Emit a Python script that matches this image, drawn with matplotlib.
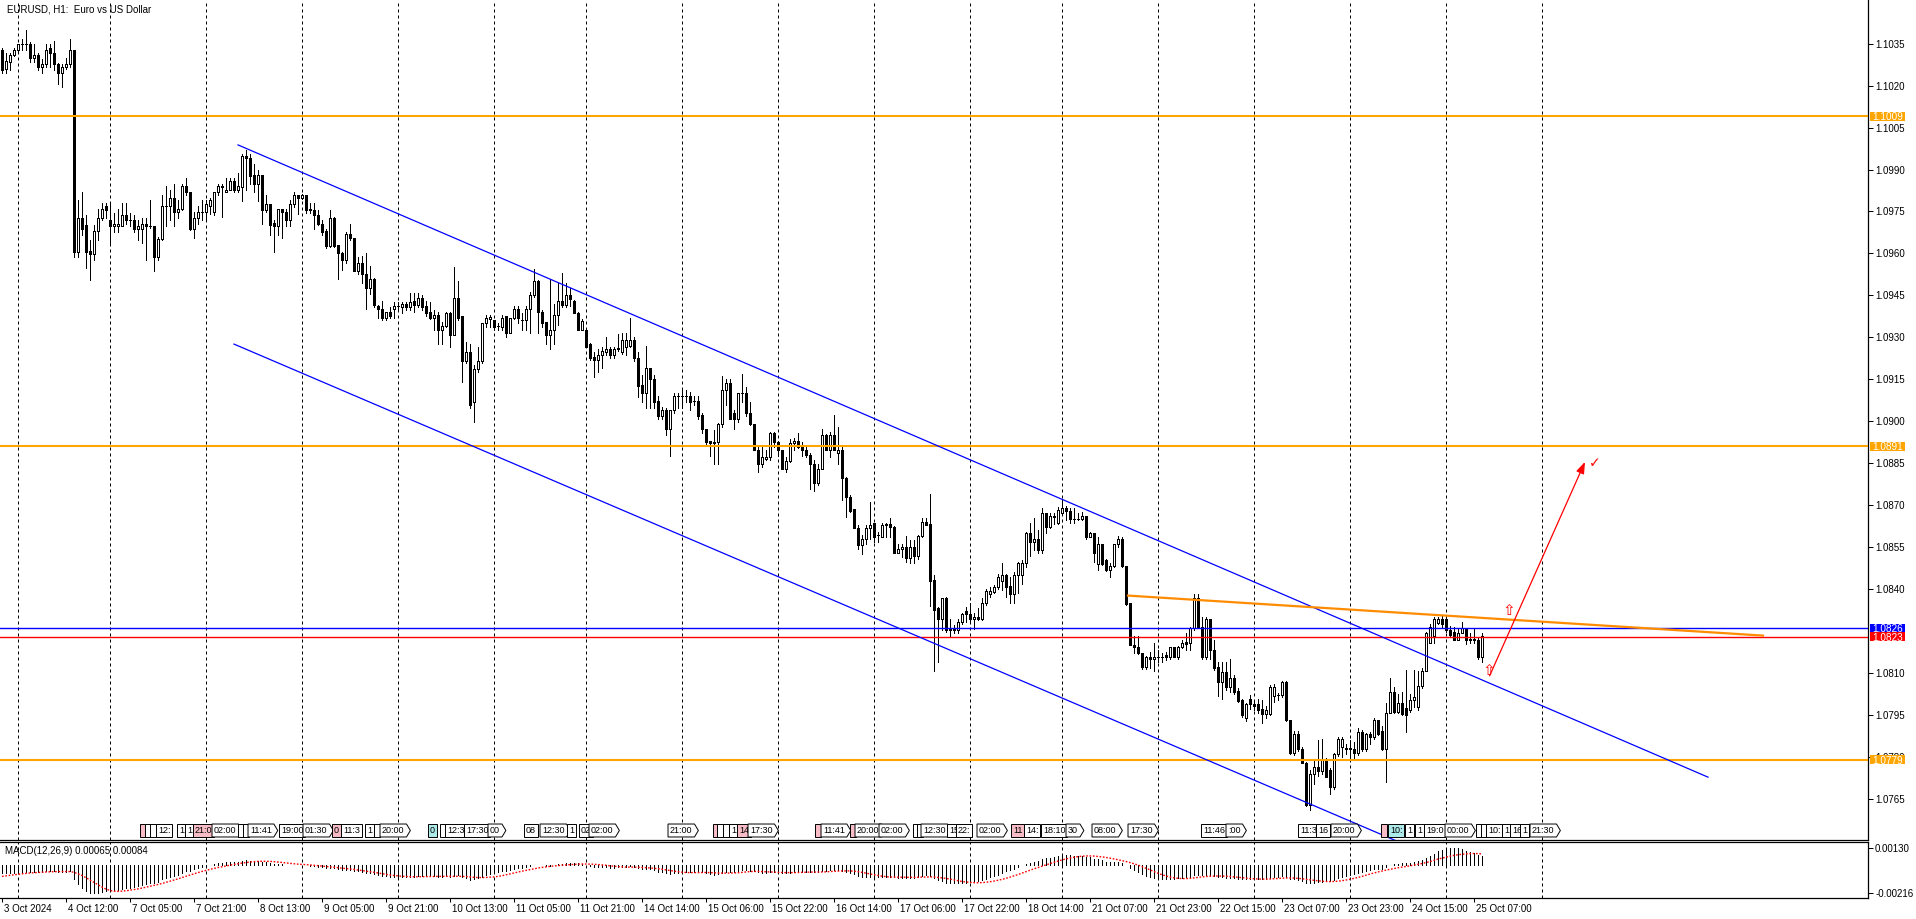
import numpy as np
import matplotlib
matplotlib.use('Agg')
import matplotlib.pyplot as plt
import matplotlib.transforms as mtransforms
from matplotlib.path import Path
from matplotlib.patches import Rectangle

plt.rcParams['font.family'] = ['Liberation Sans', 'DejaVu Sans']

# ---------------- data (EURUSD H1, bar 0 = 3 Oct 20:00) ----------------
open_ = [
    1.10329, 1.10258, 1.10285, 1.10308, 1.10329, 1.10347, 1.10347, 1.10347, 1.10297, 1.10308,
    1.10267, 1.10279, 1.10336, 1.10317, 1.10279, 1.10246, 1.10267, 1.10279, 1.10329, 1.09606,
    1.09728, 1.09701, 1.09608, 1.09597, 1.09679, 1.09728, 1.09770, 1.09719, 1.09699, 1.09699,
    1.09699, 1.09739, 1.09719, 1.09719, 1.09689, 1.09689, 1.09707, 1.09699, 1.09699, 1.09588,
    1.09650, 1.09769, 1.09769, 1.09799, 1.09749, 1.09758, 1.09840, 1.09818, 1.09689, 1.09728,
    1.09749, 1.09749, 1.09769, 1.09749, 1.09818, 1.09840, 1.09818, 1.09828, 1.09858, 1.09828,
    1.09838, 1.09948, 1.09940, 1.09880, 1.09848, 1.09880, 1.09755, 1.09778, 1.09709, 1.09699,
    1.09758, 1.09749, 1.09719, 1.09778, 1.09808, 1.09797, 1.09809, 1.09757, 1.09757, 1.09739,
    1.09707, 1.09681, 1.09626, 1.09728, 1.09630, 1.09600, 1.09576, 1.09668, 1.09657, 1.09538,
    1.09567, 1.09528, 1.09478, 1.09507, 1.09412, 1.09400, 1.09368, 1.09391, 1.09400, 1.09412,
    1.09409, 1.09419, 1.09409, 1.09430, 1.09415, 1.09439, 1.09412, 1.09391, 1.09368, 1.09380,
    1.09328, 1.09340, 1.09388, 1.09310, 1.09439, 1.09377, 1.09216, 1.09248, 1.09070, 1.09188,
    1.09216, 1.09350, 1.09364, 1.09362, 1.09340, 1.09338, 1.09377, 1.09316, 1.09368, 1.09400,
    1.09362, 1.09362, 1.09400, 1.09451, 1.09501, 1.09391, 1.09356, 1.09310, 1.09328, 1.09380,
    1.09430, 1.09415, 1.09451, 1.09430, 1.09388, 1.09328, 1.09328, 1.09278, 1.09231, 1.09219,
    1.09237, 1.09249, 1.09260, 1.09237, 1.09260, 1.09249, 1.09266, 1.09270, 1.09290, 1.09228,
    1.09129, 1.09100, 1.09189, 1.09150, 1.09072, 1.09018, 1.09040, 1.08971, 1.09040, 1.09090,
    1.09090, 1.09090, 1.09090, 1.09072, 1.09072, 1.09022, 1.08971, 1.08930, 1.08921, 1.08927,
    1.08990, 1.09111, 1.09138, 1.09028, 1.09010, 1.09100, 1.09100, 1.09028, 1.08990, 1.08899,
    1.08849, 1.08867, 1.08873, 1.08959, 1.08927, 1.08899, 1.08831, 1.08859, 1.08921, 1.08929,
    1.08911, 1.08899, 1.08879, 1.08849, 1.08780, 1.08831, 1.08950, 1.08899, 1.08950, 1.08887,
    1.08899, 1.08799, 1.08730, 1.08688, 1.08620, 1.08557, 1.08581, 1.08620, 1.08638, 1.08593,
    1.08587, 1.08631, 1.08633, 1.08623, 1.08530, 1.08542, 1.08551, 1.08510, 1.08551, 1.08519,
    1.08590, 1.08639, 1.08633, 1.08432, 1.08331, 1.08292, 1.08370, 1.08253, 1.08259, 1.08253,
    1.08281, 1.08321, 1.08310, 1.08292, 1.08299, 1.08292, 1.08349, 1.08381, 1.08391, 1.08409,
    1.08430, 1.08450, 1.08411, 1.08381, 1.08450, 1.08450, 1.08492, 1.08599, 1.08569, 1.08581,
    1.08540, 1.08671, 1.08621, 1.08659, 1.08637, 1.08671, 1.08689, 1.08680, 1.08649, 1.08649,
    1.08649, 1.08661, 1.08587, 1.08602, 1.08490, 1.08561, 1.08504, 1.08470, 1.08482, 1.08561,
    1.08581, 1.08482, 1.08349, 1.08202, 1.08192, 1.08170, 1.08120, 1.08158, 1.08152, 1.08158,
    1.08158, 1.08164, 1.08158, 1.08192, 1.08158, 1.08192, 1.08210, 1.08208, 1.08260, 1.08370,
    1.08266, 1.08158, 1.08292, 1.08182, 1.08120, 1.08069, 1.08105, 1.08051, 1.08081, 1.08037,
    1.08004, 1.07941, 1.08009, 1.07991, 1.07991, 1.07973, 1.07953, 1.07953, 1.08018, 1.08021,
    1.08021, 1.08069, 1.07932, 1.07815, 1.07882, 1.07830, 1.07779, 1.07628, 1.07741, 1.07763,
    1.07751, 1.07791, 1.07755, 1.07691, 1.07810, 1.07836, 1.07830, 1.07830, 1.07830, 1.07815,
    1.07890, 1.07830, 1.07882, 1.07872, 1.07932, 1.07894, 1.07830, 1.07958, 1.08031, 1.07962,
    1.07994, 1.07974, 1.07967, 1.08003, 1.07980, 1.08053, 1.08108, 1.08208, 1.08232, 1.08280,
    1.08292, 1.08292, 1.08254, 1.08248, 1.08220, 1.08244, 1.08260, 1.08220, 1.08220, 1.08220,
    1.08158]
high = [
    1.10336, 1.10318, 1.10318, 1.10336, 1.10350, 1.10368, 1.10398, 1.10357, 1.10347, 1.10317,
    1.10296, 1.10347, 1.10347, 1.10358, 1.10281, 1.10279, 1.10300, 1.10368, 1.10329, 1.09790,
    1.09818, 1.09739, 1.09647, 1.09701, 1.09758, 1.09781, 1.09781, 1.09778, 1.09743, 1.09758,
    1.09781, 1.09781, 1.09743, 1.09739, 1.09719, 1.09728, 1.09728, 1.09790, 1.09699, 1.09659,
    1.09808, 1.09840, 1.09828, 1.09847, 1.09790, 1.09850, 1.09868, 1.09818, 1.09749, 1.09769,
    1.09790, 1.09790, 1.09800, 1.09818, 1.09847, 1.09847, 1.09868, 1.09868, 1.09868, 1.09888,
    1.09957, 1.09969, 1.09957, 1.09919, 1.09898, 1.09880, 1.09808, 1.09778, 1.09719, 1.09758,
    1.09758, 1.09758, 1.09790, 1.09818, 1.09808, 1.09812, 1.09809, 1.09779, 1.09779, 1.09755,
    1.09719, 1.09689, 1.09757, 1.09731, 1.09630, 1.09606, 1.09677, 1.09707, 1.09657, 1.09588,
    1.09590, 1.09600, 1.09555, 1.09511, 1.09415, 1.09431, 1.09391, 1.09409, 1.09427, 1.09427,
    1.09427, 1.09427, 1.09457, 1.09457, 1.09457, 1.09451, 1.09430, 1.09427, 1.09397, 1.09391,
    1.09356, 1.09391, 1.09391, 1.09550, 1.09502, 1.09377, 1.09284, 1.09278, 1.09201, 1.09266,
    1.09350, 1.09380, 1.09380, 1.09362, 1.09350, 1.09380, 1.09377, 1.09368, 1.09412, 1.09412,
    1.09386, 1.09412, 1.09463, 1.09543, 1.09505, 1.09397, 1.09356, 1.09507, 1.09421, 1.09493,
    1.09529, 1.09493, 1.09475, 1.09433, 1.09391, 1.09364, 1.09328, 1.09280, 1.09249, 1.09260,
    1.09266, 1.09300, 1.09266, 1.09266, 1.09312, 1.09316, 1.09316, 1.09368, 1.09300, 1.09249,
    1.09165, 1.09269, 1.09189, 1.09165, 1.09090, 1.09052, 1.09046, 1.09042, 1.09102, 1.09102,
    1.09111, 1.09111, 1.09106, 1.09090, 1.09090, 1.09028, 1.08974, 1.08930, 1.08968, 1.08995,
    1.09161, 1.09150, 1.09150, 1.09042, 1.09102, 1.09169, 1.09121, 1.09070, 1.08990, 1.08909,
    1.08909, 1.08899, 1.08962, 1.08962, 1.08930, 1.08899, 1.08873, 1.08935, 1.08941, 1.08959,
    1.08927, 1.08909, 1.08885, 1.08861, 1.08849, 1.08974, 1.08956, 1.08962, 1.09022, 1.08980,
    1.08909, 1.08801, 1.08736, 1.08688, 1.08629, 1.08593, 1.08629, 1.08712, 1.08638, 1.08605,
    1.08638, 1.08638, 1.08653, 1.08625, 1.08561, 1.08561, 1.08590, 1.08575, 1.08575, 1.08593,
    1.08653, 1.08653, 1.08740, 1.08450, 1.08335, 1.08370, 1.08373, 1.08292, 1.08271, 1.08292,
    1.08316, 1.08335, 1.08349, 1.08313, 1.08331, 1.08367, 1.08402, 1.08409, 1.08415, 1.08454,
    1.08492, 1.08454, 1.08444, 1.08462, 1.08498, 1.08504, 1.08605, 1.08635, 1.08653, 1.08611,
    1.08689, 1.08673, 1.08671, 1.08671, 1.08695, 1.08721, 1.08697, 1.08689, 1.08689, 1.08671,
    1.08677, 1.08661, 1.08605, 1.08602, 1.08587, 1.08561, 1.08506, 1.08494, 1.08563, 1.08590,
    1.08585, 1.08482, 1.08351, 1.08232, 1.08232, 1.08172, 1.08160, 1.08176, 1.08208, 1.08182,
    1.08172, 1.08176, 1.08194, 1.08194, 1.08196, 1.08220, 1.08242, 1.08266, 1.08382, 1.08382,
    1.08301, 1.08301, 1.08292, 1.08220, 1.08140, 1.08140, 1.08140, 1.08152, 1.08093, 1.08045,
    1.08006, 1.07994, 1.08021, 1.08003, 1.08009, 1.08003, 1.07982, 1.08057, 1.08061, 1.08029,
    1.08071, 1.08071, 1.07934, 1.07894, 1.07894, 1.07836, 1.07783, 1.07753, 1.07786, 1.07860,
    1.07866, 1.07795, 1.07759, 1.07815, 1.07872, 1.07872, 1.07848, 1.07860, 1.07854, 1.07902,
    1.07898, 1.07886, 1.07890, 1.07938, 1.07934, 1.07910, 1.07994, 1.08081, 1.08051, 1.08027,
    1.08033, 1.08111, 1.08027, 1.08111, 1.08108, 1.08117, 1.08248, 1.08277, 1.08299, 1.08301,
    1.08304, 1.08301, 1.08268, 1.08266, 1.08256, 1.08284, 1.08260, 1.08242, 1.08260, 1.08230,
    1.08242]
low = [
    1.10246, 1.10246, 1.10255, 1.10305, 1.10321, 1.10329, 1.10329, 1.10285, 1.10285, 1.10255,
    1.10246, 1.10267, 1.10267, 1.10255, 1.10207, 1.10196, 1.10258, 1.10267, 1.09588, 1.09588,
    1.09665, 1.09548, 1.09504, 1.09578, 1.09647, 1.09719, 1.09728, 1.09629, 1.09677, 1.09677,
    1.09699, 1.09707, 1.09699, 1.09677, 1.09647, 1.09638, 1.09578, 1.09690, 1.09538, 1.09578,
    1.09647, 1.09699, 1.09719, 1.09699, 1.09728, 1.09754, 1.09808, 1.09683, 1.09657, 1.09707,
    1.09719, 1.09719, 1.09740, 1.09737, 1.09808, 1.09729, 1.09818, 1.09826, 1.09818, 1.09818,
    1.09788, 1.09828, 1.09850, 1.09818, 1.09788, 1.09707, 1.09749, 1.09665, 1.09606, 1.09665,
    1.09657, 1.09699, 1.09699, 1.09767, 1.09740, 1.09793, 1.09743, 1.09743, 1.09689, 1.09701,
    1.09665, 1.09618, 1.09624, 1.09624, 1.09507, 1.09540, 1.09567, 1.09648, 1.09538, 1.09528,
    1.09493, 1.09400, 1.09455, 1.09407, 1.09368, 1.09362, 1.09362, 1.09368, 1.09368, 1.09397,
    1.09388, 1.09397, 1.09397, 1.09391, 1.09407, 1.09397, 1.09377, 1.09364, 1.09328, 1.09278,
    1.09278, 1.09338, 1.09266, 1.09308, 1.09362, 1.09141, 1.09207, 1.09046, 1.08998, 1.09177,
    1.09207, 1.09338, 1.09338, 1.09326, 1.09328, 1.09326, 1.09302, 1.09314, 1.09364, 1.09350,
    1.09328, 1.09328, 1.09316, 1.09445, 1.09316, 1.09338, 1.09278, 1.09260, 1.09278, 1.09344,
    1.09409, 1.09409, 1.09412, 1.09388, 1.09326, 1.09326, 1.09266, 1.09219, 1.09159, 1.09177,
    1.09189, 1.09237, 1.09228, 1.09228, 1.09252, 1.09240, 1.09237, 1.09266, 1.09216, 1.09088,
    1.09070, 1.09049, 1.09049, 1.09049, 1.09010, 1.09010, 1.08950, 1.08877, 1.09028, 1.09049,
    1.09046, 1.09070, 1.09040, 1.09058, 1.09010, 1.08959, 1.08918, 1.08877, 1.08849, 1.08849,
    1.08980, 1.09058, 1.09010, 1.08971, 1.08998, 1.09070, 1.09018, 1.08986, 1.08897, 1.08819,
    1.08837, 1.08861, 1.08861, 1.08909, 1.08877, 1.08829, 1.08819, 1.08855, 1.08899, 1.08906,
    1.08877, 1.08873, 1.08757, 1.08750, 1.08771, 1.08829, 1.08897, 1.08873, 1.08897, 1.08849,
    1.08718, 1.08658, 1.08676, 1.08617, 1.08545, 1.08527, 1.08563, 1.08581, 1.08569, 1.08569,
    1.08585, 1.08587, 1.08587, 1.08528, 1.08530, 1.08516, 1.08498, 1.08492, 1.08492, 1.08506,
    1.08587, 1.08629, 1.08341, 1.08108, 1.08140, 1.08253, 1.08248, 1.08230, 1.08244, 1.08244,
    1.08277, 1.08283, 1.08283, 1.08259, 1.08289, 1.08289, 1.08343, 1.08373, 1.08387, 1.08399,
    1.08397, 1.08373, 1.08349, 1.08349, 1.08385, 1.08420, 1.08480, 1.08518, 1.08540, 1.08530,
    1.08530, 1.08599, 1.08617, 1.08632, 1.08632, 1.08668, 1.08647, 1.08637, 1.08637, 1.08647,
    1.08647, 1.08581, 1.08585, 1.08498, 1.08468, 1.08486, 1.08466, 1.08444, 1.08480, 1.08551,
    1.08480, 1.08343, 1.08200, 1.08170, 1.08168, 1.08116, 1.08116, 1.08119, 1.08108, 1.08140,
    1.08140, 1.08146, 1.08149, 1.08156, 1.08152, 1.08188, 1.08182, 1.08182, 1.08254, 1.08266,
    1.08152, 1.08152, 1.08152, 1.08111, 1.08018, 1.08009, 1.08039, 1.08033, 1.08027, 1.07997,
    1.07944, 1.07929, 1.07970, 1.07967, 1.07956, 1.07920, 1.07941, 1.07950, 1.07997, 1.08003,
    1.08015, 1.07929, 1.07810, 1.07807, 1.07822, 1.07777, 1.07624, 1.07612, 1.07703, 1.07732,
    1.07741, 1.07727, 1.07667, 1.07687, 1.07803, 1.07800, 1.07812, 1.07791, 1.07791, 1.07807,
    1.07822, 1.07822, 1.07848, 1.07866, 1.07878, 1.07824, 1.07711, 1.07956, 1.07956, 1.07956,
    1.07950, 1.07890, 1.07962, 1.07980, 1.07967, 1.08047, 1.08108, 1.08206, 1.08206, 1.08275,
    1.08266, 1.08248, 1.08230, 1.08218, 1.08218, 1.08242, 1.08204, 1.08206, 1.08206, 1.08152,
    1.08140]
close = [
    1.10255, 1.10287, 1.10308, 1.10329, 1.10347, 1.10347, 1.10347, 1.10297, 1.10308, 1.10267,
    1.10279, 1.10329, 1.10317, 1.10279, 1.10246, 1.10267, 1.10279, 1.10329, 1.09606, 1.09728,
    1.09689, 1.09606, 1.09597, 1.09679, 1.09728, 1.09758, 1.09757, 1.09699, 1.09707, 1.09707,
    1.09739, 1.09719, 1.09719, 1.09689, 1.09699, 1.09707, 1.09699, 1.09699, 1.09588, 1.09650,
    1.09769, 1.09769, 1.09799, 1.09749, 1.09758, 1.09840, 1.09818, 1.09689, 1.09728, 1.09749,
    1.09749, 1.09778, 1.09790, 1.09818, 1.09840, 1.09838, 1.09828, 1.09858, 1.09828, 1.09840,
    1.09948, 1.09940, 1.09878, 1.09848, 1.09880, 1.09755, 1.09778, 1.09701, 1.09699, 1.09758,
    1.09749, 1.09719, 1.09778, 1.09808, 1.09797, 1.09809, 1.09755, 1.09757, 1.09739, 1.09707,
    1.09677, 1.09626, 1.09728, 1.09626, 1.09600, 1.09576, 1.09668, 1.09656, 1.09538, 1.09567,
    1.09528, 1.09478, 1.09507, 1.09415, 1.09400, 1.09368, 1.09391, 1.09377, 1.09412, 1.09412,
    1.09419, 1.09409, 1.09427, 1.09415, 1.09439, 1.09409, 1.09388, 1.09368, 1.09380, 1.09328,
    1.09340, 1.09388, 1.09310, 1.09439, 1.09368, 1.09216, 1.09248, 1.09058, 1.09188, 1.09216,
    1.09350, 1.09368, 1.09374, 1.09338, 1.09340, 1.09368, 1.09316, 1.09368, 1.09400, 1.09368,
    1.09362, 1.09400, 1.09451, 1.09501, 1.09391, 1.09350, 1.09310, 1.09328, 1.09380, 1.09430,
    1.09415, 1.09451, 1.09436, 1.09388, 1.09328, 1.09359, 1.09266, 1.09225, 1.09219, 1.09237,
    1.09251, 1.09260, 1.09237, 1.09260, 1.09260, 1.09290, 1.09290, 1.09290, 1.09228, 1.09126,
    1.09100, 1.09189, 1.09150, 1.09070, 1.09018, 1.09040, 1.08971, 1.09040, 1.09090, 1.09090,
    1.09090, 1.09090, 1.09070, 1.09072, 1.09018, 1.08971, 1.08927, 1.08921, 1.08927, 1.08990,
    1.09111, 1.09138, 1.09010, 1.09010, 1.09100, 1.09100, 1.09028, 1.08990, 1.08899, 1.08849,
    1.08873, 1.08873, 1.08959, 1.08927, 1.08897, 1.08831, 1.08859, 1.08921, 1.08929, 1.08909,
    1.08897, 1.08879, 1.08849, 1.08780, 1.08831, 1.08950, 1.08899, 1.08950, 1.08899, 1.08899,
    1.08799, 1.08730, 1.08680, 1.08620, 1.08557, 1.08581, 1.08620, 1.08631, 1.08587, 1.08593,
    1.08631, 1.08631, 1.08621, 1.08530, 1.08542, 1.08551, 1.08510, 1.08551, 1.08519, 1.08590,
    1.08639, 1.08629, 1.08430, 1.08327, 1.08292, 1.08370, 1.08253, 1.08259, 1.08253, 1.08281,
    1.08310, 1.08310, 1.08292, 1.08299, 1.08292, 1.08349, 1.08394, 1.08394, 1.08409, 1.08442,
    1.08450, 1.08409, 1.08381, 1.08450, 1.08492, 1.08492, 1.08599, 1.08569, 1.08581, 1.08540,
    1.08671, 1.08621, 1.08661, 1.08661, 1.08683, 1.08689, 1.08680, 1.08649, 1.08649, 1.08649,
    1.08661, 1.08587, 1.08602, 1.08530, 1.08561, 1.08490, 1.08468, 1.08482, 1.08561, 1.08581,
    1.08482, 1.08347, 1.08202, 1.08192, 1.08170, 1.08120, 1.08158, 1.08152, 1.08158, 1.08158,
    1.08158, 1.08158, 1.08192, 1.08158, 1.08192, 1.08209, 1.08204, 1.08260, 1.08370, 1.08266,
    1.08158, 1.08292, 1.08182, 1.08117, 1.08069, 1.08105, 1.08051, 1.08081, 1.08031, 1.08001,
    1.07950, 1.07991, 1.07991, 1.07982, 1.07967, 1.07953, 1.07967, 1.08051, 1.08051, 1.08021,
    1.08069, 1.07932, 1.07815, 1.07882, 1.07827, 1.07779, 1.07628, 1.07741, 1.07763, 1.07751,
    1.07791, 1.07729, 1.07691, 1.07810, 1.07866, 1.07866, 1.07830, 1.07830, 1.07815, 1.07890,
    1.07830, 1.07882, 1.07872, 1.07932, 1.07884, 1.07830, 1.07958, 1.08031, 1.07962, 1.07994,
    1.07952, 1.07950, 1.08003, 1.08015, 1.08053, 1.08108, 1.08242, 1.08266, 1.08292, 1.08292,
    1.08277, 1.08254, 1.08236, 1.08220, 1.08244, 1.08260, 1.08220, 1.08220, 1.08220, 1.08158,
    1.08232]

# MACD(12,26,9) main line and signal, in units of 0.00001
macd_pts = [
    -64, -64, -62, -60, -58, -56, -54, -53, -52, -52, -52, -50, -49, -49, -51, -52, -51, -48,
    -105, -150, -180, -200, -212, -216, -214, -208, -202, -198, -194, -190, -186, -180, -175, -168, -161, -153, -146, -140, -137, -131,
    -110, -100, -90, -82, -74, -60, -50, -45, -35, -26, -16, -8, 0, 6, 12, 16, 19, 22, 24, 26,
    32, 34, 33, 31, 30, 24, 21, 15, 10, 9, 6, 3, 3, 2, 0, -1, -4, -7, -10, -14,
    -18, -24, -22, -26, -32, -38, -36, -38, -46, -50, -55, -62, -64, -72, -78, -84, -88, -91, -92, -93,
    -93, -92, -90, -89, -87, -87, -87, -87, -87, -89, -90, -88, -92, -82, -80, -92, -98, -112, -110, -104,
    -92, -80, -70, -62, -56, -49, -47, -40, -32, -27, -23, -17, -8, 2, 0, -3, -7, -5, 0, 6,
    10, 15, 17, 17, 12, 10, 3, -6, -13, -17, -19, -19, -21, -20, -19, -16, -14, -11, -14, -24,
    -33, -32, -34, -42, -51, -56, -64, -66, -63, -60, -57, -54, -52, -51, -53, -58, -65, -70, -74, -73,
    -62, -52, -52, -52, -46, -41, -41, -43, -50, -58, -62, -63, -58, -56, -57, -62, -63, -59, -55, -53,
    -52, -52, -52, -58, -58, -50, -47, -40, -38, -37, -43, -52, -62, -72, -84, -90, -92, -92, -95, -96,
    -94, -92, -90, -95, -97, -97, -99, -97, -97, -92, -84, -78, -88, -104, -118, -124, -135, -140, -140, -140,
    -138, -135, -132, -128, -124, -116, -106, -96, -86, -74, -60, -50, -42, -30, -16, -4, 10, 18, 26, 31,
    44, 50, 56, 60, 66, 70, 73, 73, 72, 71, 70, 63, 58, 48, 44, 35, 26, 20, 20, 20,
    12, 0, -22, -40, -55, -72, -82, -92, -98, -103, -106, -108, -106, -106, -103, -99, -96, -90, -76, -74,
    -80, -74, -77, -84, -92, -94, -98, -98, -101, -105, -111, -111, -110, -110, -110, -111, -110, -100, -94, -90,
    -84, -92, -106, -110, -116, -122, -138, -138, -136, -133, -128, -127, -126, -114, -100, -90, -82, -76, -70, -60,
    -56, -48, -42, -32, -28, -28, -16, -2, 4, 10, 13, 15, 18, 22, 28, 36, 55, 70, 86, 104,
    116, 124, 128, 130, 127, 120, 110, 100, 90, 78, 65]
signal_pts = [
    -88, -84, -80, -76, -72, -68, -65, -62, -60, -58, -56, -54, -53, -52, -51, -51, -51, -51,
    -57, -68, -82, -98, -116, -134, -152, -170, -186, -196, -202, -203, -201, -198, -194, -189, -184, -178, -171, -164, -157, -150,
    -142, -134, -125, -116, -107, -97, -87, -78, -68, -59, -50, -42, -34, -27, -20, -14, -8, -2, 4, 9,
    14, 18, 22, 25, 27, 28, 28, 27, 25, 22, 19, 15, 12, 9, 6, 4, 2, 0, -3, -6,
    -9, -12, -15, -18, -21, -25, -28, -31, -35, -39, -43, -48, -52, -57, -62, -67, -72, -77, -81, -84,
    -87, -89, -90, -91, -91, -90, -90, -89, -89, -88, -88, -88, -88, -88, -87, -88, -89, -92, -95, -97,
    -97, -96, -94, -92, -88, -83, -76, -69, -62, -55, -48, -42, -36, -30, -24, -19, -15, -11, -8, -5,
    -2, 0, 2, 4, 6, 7, 7, 6, 5, 3, 0, -3, -7, -10, -13, -15, -17, -17, -17, -18,
    -19, -21, -23, -26, -29, -33, -38, -43, -48, -52, -56, -58, -59, -59, -59, -58, -58, -59, -60, -62,
    -63, -63, -62, -61, -60, -57, -54, -51, -50, -50, -51, -53, -54, -55, -57, -58, -59, -59, -59, -58,
    -57, -56, -55, -55, -55, -54, -53, -51, -49, -47, -46, -46, -46, -48, -52, -57, -63, -69, -75, -81,
    -86, -90, -93, -94, -94, -94, -95, -95, -95, -95, -94, -93, -92, -93, -96, -99, -104, -109, -115, -121,
    -127, -131, -134, -136, -137, -136, -133, -129, -124, -118, -111, -103, -94, -84, -74, -63, -52, -41, -30, -20,
    -10, 0, 10, 20, 29, 38, 46, 53, 59, 64, 67, 69, 69, 68, 65, 62, 57, 52, 46, 40,
    33, 26, 18, 9, -1, -13, -25, -38, -51, -64, -75, -85, -93, -99, -103, -105, -105, -103, -100, -96,
    -92, -89, -87, -86, -85, -86, -87, -89, -92, -95, -98, -101, -104, -106, -108, -109, -109, -108, -106, -104,
    -102, -100, -100, -101, -103, -106, -110, -114, -118, -122, -125, -127, -128, -127, -125, -121, -116, -110, -103, -96,
    -88, -79, -70, -62, -54, -47, -40, -34, -28, -22, -17, -12, -7, -1, 5, 11, 18, 26, 35, 45,
    52, 60, 67, 73, 78, 82, 85, 87, 88, 87, 84]

assert len(open_) == len(high) == len(low) == len(close) == len(macd_pts) == len(signal_pts)

# first bar of each trading day (vertical dashed grid)
day_starts = [4, 27, 51, 75, 99, 123, 146, 170, 194, 218, 242, 265, 289, 313, 337, 361, 385]

time_ticks = [0, 16, 32, 48, 64, 80, 96, 112, 128, 144, 160, 176, 192, 208, 224, 240,
              256, 272, 288, 304, 320, 336, 352, 368]
time_labels = ['3 Oct 2024', '4 Oct 12:00', '7 Oct 05:00', '7 Oct 21:00', '8 Oct 13:00',
               '9 Oct 05:00', '9 Oct 21:00', '10 Oct 13:00', '11 Oct 05:00', '11 Oct 21:00',
               '14 Oct 14:00', '15 Oct 06:00', '15 Oct 22:00', '16 Oct 14:00', '17 Oct 06:00',
               '17 Oct 22:00', '18 Oct 14:00', '21 Oct 07:00', '21 Oct 23:00', '22 Oct 15:00',
               '23 Oct 07:00', '23 Oct 23:00', '24 Oct 15:00', '25 Oct 07:00']

# 1.0825 sits under the 1.0826 / 1.0823 price boxes, so it is not printed
price_labels = ['1.1035', '1.1020', '1.1005', '1.0990', '1.0975', '1.0960', '1.0945', '1.0930',
                '1.0915', '1.0900', '1.0885', '1.0870', '1.0855', '1.0840', '1.0810',
                '1.0795', '1.0780', '1.0765']
price_ticks = [float(s) for s in price_labels]

orange_levels = [1.1009, 1.0891, 1.0779]
blue_level = 1.0826
red_level = 1.0823

upper_channel = ([59, 426.5], [1.09988, 1.07728])
lower_channel = ([58, 426.5], [1.09276, 1.07024])
orange_trend = ([281.5, 440.25], [1.08377, 1.08234])
red_arrow = ([371.9, 395.75], [1.08090, 1.08855])
up_marks = ([371.75, 376.75], [1.08111, 1.08322])

PINK, CYAN = '#f7bcc6', '#aee9ea'
# (bar position, text, fill, pointed right end)
events = [
    (35, ' ', PINK, 0), (36.25, ' ', None, 0), (37.5, ' ', None, 0), (39, '12:', None, 0),
    (44.25, '1', None, 0), (46.25, '1', None, 0), (48.25, '21:0', PINK, 0), (53, '02:00', None, 1),
    (59.5, ' ', None, 0), (60.75, ' ', None, 0), (62, '11:41', None, 1), (69.75, '19:00', None, 0),
    (75.75, '01:30', None, 1), (83, '0', PINK, 0), (85.25, '11:3', None, 0), (91.25, '1', None, 0),
    (93.5, ' ', None, 0), (95, '20:00', None, 1), (107, '0', CYAN, 0), (110, ' ', None, 0),
    (111.25, '12:3', None, 0), (116, '17:30', None, 0), (122, '00', None, 1), (131, '08', None, 0),
    (135, '12:30', None, 1), (141.75, '1', None, 0), (144.75, '02', None, 0), (147.25, '02:00', None, 1),
    (167, '21:00', None, 1), (178.25, ' ', PINK, 0), (179.25, ' ', None, 0), (180.75, ' ', None, 0),
    (182.25, '1', None, 0), (184.25, '14', PINK, 0), (187, '17:30', None, 1), (203.75, ' ', PINK, 0),
    (205.25, '11:41', None, 1), (212.5, ' ', PINK, 0), (213.75, '20:00', None, 1), (219.75, '02:00', None, 1),
    (228.25, ' ', None, 0), (229.25, ' ', None, 0), (230.25, '12:30', None, 1), (236.75, '15', None, 0),
    (239, '22:', None, 0), (244.25, '02:00', None, 1), (252.75, '11', PINK, 0), (256, '14:', None, 0),
    (260.25, '18:10', None, 0), (266.5, '30', None, 1), (273, '08:00', None, 1), (282, '17:30', None, 1),
    (300.25, '11:46', None, 0), (306.5, ':00', None, 1), (324.5, '11:3', None, 0), (329, '16', None, 0),
    (332.75, '20:00', None, 1), (345.25, ' ', PINK, 0), (347, '10:', CYAN, 0), (351.25, '1', None, 0),
    (353.75, '1', None, 0), (356, '19:0', None, 0), (361.25, '00:00', None, 1), (369, ' ', None, 0),
    (370.25, ' ', None, 0), (371.5, '10:', None, 0), (375.5, '1', None, 0), (377.5, '16', None, 0),
    (380, '1', None, 0), (382.5, '21:30', None, 1)]


class FlagBox:
    """Box with a short pointed right end, like the MT5 calendar flags."""
    def __init__(self, pad=0.2, point=True):
        self.pad = pad
        self.point = point

    def __call__(self, x0, y0, width, height, mutation_size):
        p = mutation_size * self.pad
        x0, y0, x1, y1 = x0 - p, y0 - p, x0 + width + p, y0 + height + p
        if not self.point:
            verts = [(x0, y0), (x1, y0), (x1, y1), (x0, y1), (x0, y0)]
        else:
            t = (y1 - y0) * 0.3
            verts = [(x0, y0), (x1, y0), (x1 + t, (y0 + y1) / 2), (x1, y1), (x0, y1), (x0, y0)]
        return Path(verts, closed=True)


# ---------------- figure ----------------
W, H = 1916, 919
fig = plt.figure(figsize=(W / 100, H / 100), dpi=100)
ax = fig.add_axes([0, 79 / H, 1868 / W, 840 / H])
axm = fig.add_axes([0, 21 / H, 1868 / W, 56 / H])

x = np.arange(len(close))
o, hi, lo, c = (np.array(v) for v in (open_, high, low, close))

for a in (ax, axm):
    a.set_xlim(-0.5, 466.5)
    for d in day_starts:
        a.axvline(d, color='black', lw=0.72, ls=(0, (3, 3)), zorder=1)
    for s in a.spines.values():
        s.set_linewidth(0.9)
    a.spines['left'].set_visible(False)

ax.spines['top'].set_visible(False)
ax.set_ylim(1.10506 - 840 / 27975, 1.10506)

# candles
ax.vlines(x, lo, hi, colors='black', linewidth=0.72, antialiased=False, zorder=2)
body_lo = np.minimum(o, c)
body_h = np.maximum(np.abs(c - o), 0.000005)
face = np.where(c >= o, 'white', 'black')
ax.bar(x, body_h, bottom=body_lo, width=0.5, color=face, edgecolor='black',
       linewidth=0.72, antialiased=False, zorder=3)

# levels and drawn objects
for lv in orange_levels:
    ax.axhline(lv, color='#ffa500', lw=1.5, zorder=4)
ax.axhline(blue_level, color='#0000ff', lw=1.0, zorder=4)
ax.axhline(red_level, color='#ff0000', lw=1.0, zorder=4)
ax.plot(*upper_channel, color='#0000ff', lw=0.9, zorder=4)
ax.plot(*lower_channel, color='#0000ff', lw=0.9, zorder=4)
ax.plot(*orange_trend, color='#ff8c00', lw=1.6, zorder=4)
ax.annotate('', xy=(red_arrow[0][1], red_arrow[1][1]), xytext=(red_arrow[0][0], red_arrow[1][0]),
            arrowprops=dict(arrowstyle='-|>,head_length=0.7,head_width=0.25', color='red',
                            lw=0.9, shrinkA=0, shrinkB=0), zorder=5)
ax.text(red_arrow[0][1] + 1.0, red_arrow[1][1] - 0.00003, '\u2713', color='red', fontsize=10,
        family='DejaVu Sans', ha='left', va='center', zorder=5)
for ux, uy in zip(*up_marks):
    ax.text(ux, uy, '\u21e7', color='red', fontsize=11, family='DejaVu Sans',
            ha='center', va='center', zorder=5)

# calendar event flags along the bottom of the price panel
ev_trans = mtransforms.blended_transform_factory(ax.transData, ax.transAxes)
for k, (ex, txt, fill, pointed) in enumerate(events):
    ax.text(ex, 9.5 / 840, txt, transform=ev_trans, fontsize=6.5, ha='left', va='center',
            bbox=dict(boxstyle=FlagBox(0.22, bool(pointed)), fc=fill or 'white', ec='black', lw=0.7),
            zorder=6 + k * 0.01, clip_on=True)

# price axis (right)
ax.yaxis.tick_right()
ax.set_yticks(price_ticks)
ax.set_yticklabels(price_labels)
ax.tick_params(axis='y', direction='out', length=3.6, width=0.72, pad=1.5, labelsize=7)
ax.set_xticks([])

# coloured price boxes on the scale (drawn as rectangles)
lbl_trans = mtransforms.blended_transform_factory(fig.transFigure, ax.transData)
box_h = 8.8 / 27975
for lv, col in [(orange_levels[0], '#ffa500'), (orange_levels[1], '#ffa500'),
                (orange_levels[2], '#ffa500'), (blue_level, '#0000ff'), (red_level, '#ff0000')]:
    ax.add_patch(Rectangle((1870 / W, lv - box_h / 2), 35 / W, box_h, transform=lbl_trans,
                           facecolor=col, edgecolor='none', clip_on=False, zorder=20))
    ax.text(1872 / W, lv, f'{lv:.4f}', transform=lbl_trans, color='white', fontsize=7.2,
            ha='left', va='center_baseline', clip_on=False, zorder=21)

fig.text(7 / W, 1 - 10 / H, 'EURUSD, H1:  Euro vs US Dollar', fontsize=7, va='center')

# MACD panel
macd = np.array(macd_pts) * 1e-5
signal = np.array(signal_pts) * 1e-5
axm.set_ylim(-0.00254, 0.00176)
axm.vlines(x, 0, macd, colors='black', linewidth=0.72, antialiased=False, zorder=2)
axm.plot(x, signal, color='red', lw=1.0, ls=(0, (1.2, 1.2)), zorder=3)
axm.yaxis.tick_right()
axm.set_yticks([0.0013, -0.00216])
axm.set_yticklabels(['0.00130', '-0.00216'])
axm.tick_params(axis='y', direction='out', length=3.6, width=0.72, pad=1.5, labelsize=7)
axm.set_xticks(time_ticks)
axm.set_xticklabels(time_labels, ha='left')
axm.tick_params(axis='x', direction='out', length=3, width=0.72, pad=1.5, labelsize=7)
shift = mtransforms.ScaledTranslation(2 / 100, 0, fig.dpi_scale_trans)
for t in axm.get_xticklabels():
    t.set_transform(t.get_transform() + shift)
fig.text(5 / W, 1 - 851 / H, 'MACD(12,26,9) 0.00065 0.00084', fontsize=7, va='center')

fig.savefig('out.png', dpi=100)
